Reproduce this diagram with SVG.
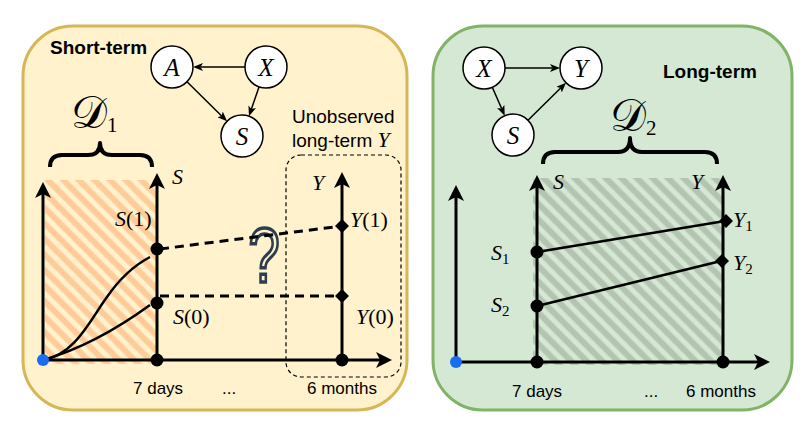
<svg xmlns="http://www.w3.org/2000/svg" width="808" height="439" viewBox="0 0 808 439">
<style>
.sans{font-family:"Liberation Sans",Arial,sans-serif;fill:#000}
.bold{font-weight:bold;font-size:19px}
.lbl{font-size:17px}
.math{font-family:"Liberation Serif","Times New Roman",serif;fill:#000;font-size:22px}
.it{font-style:italic}
.node circle{fill:#fff;stroke:#000;stroke-width:1.5}
.node text{font-family:"Liberation Serif","Times New Roman",serif;font-style:italic;font-size:25px;text-anchor:middle}
.edge{stroke:#000;stroke-width:1.5;fill:none;marker-end:url(#arr)}
.axis{stroke:#000;stroke-width:3;fill:none}
.axarr{marker-end:url(#axarr)}
.dash{stroke:#000;stroke-width:3;fill:none;stroke-dasharray:9 6}
.curve{stroke:#000;stroke-width:2.5;fill:none}
.brace{stroke:#000;stroke-width:4;fill:none;stroke-linejoin:round}
.dot{fill:#000}
.dia{fill:#000}
.cal{font-size:45px}
</style>
<defs>
<marker id="arr" viewBox="0 0 10 8" refX="2.5" refY="4" markerWidth="10" markerHeight="8" markerUnits="userSpaceOnUse" orient="auto">
<path d="M0,0 L10,4 L0,8 L2.5,4 z" fill="#000"/>
</marker>
<marker id="axarr" viewBox="0 0 16 16" refX="4" refY="8" markerWidth="16" markerHeight="16" markerUnits="userSpaceOnUse" orient="auto">
<path d="M0,0 L16,8 L0,16 L4,8 z" fill="#000"/>
</marker>
<pattern id="hatchO" patternUnits="userSpaceOnUse" width="11" height="11" patternTransform="rotate(45)">
<rect x="0" y="2.5" width="11" height="6" fill="#ffcc99"/>
</pattern>
<pattern id="hatchG" patternUnits="userSpaceOnUse" width="11" height="11" patternTransform="rotate(45)">
<rect x="0" y="2.5" width="11" height="6" fill="#b3c4b1"/>
</pattern>
</defs>

<!-- Panels -->
<g id="panel-short">
<rect x="23" y="26" width="384" height="384" rx="50" ry="50" fill="#fff2cc" stroke="#d6b656" stroke-width="3"/>
<text class="sans bold" x="50" y="54">Short-term</text>
</g>
<g id="panel-long">
<rect x="433" y="26" width="359" height="384" rx="50" ry="50" fill="#d5e8d4" stroke="#82b366" stroke-width="3"/>
<text class="sans bold" x="663" y="78">Long-term</text>
</g>

<!-- Hatched data regions -->
<g id="hatch-d1"><rect x="45" y="180" width="112" height="184" fill="url(#hatchO)"/></g>
<g id="hatch-d2"><rect x="533" y="178" width="189" height="187" fill="url(#hatchG)"/></g>

<!-- Unobserved box -->
<g id="unobserved">
<rect x="286" y="155" width="115" height="222" rx="15" ry="15" fill="none" stroke="#000" stroke-width="1.2" stroke-dasharray="4 3"/>
<text class="sans" font-size="19" x="292" y="123">Unobserved</text>
<text class="sans" font-size="19" x="292" y="147">long-term <tspan class="it" font-family="Liberation Serif, serif" font-size="22">Y</tspan></text>
</g>

<!-- Question mark -->
<g id="question">
<text transform="translate(264,282) scale(0.72,1)" x="0" y="0" text-anchor="middle" font-family="Liberation Sans, Arial, sans-serif" font-size="78" fill="#fff2cc" stroke="#2c3e50" stroke-width="3.5">?</text>
</g>

<!-- Connectors -->
<g id="connectors">
<!-- left DAG -->
<line class="edge" x1="245" y1="67" x2="200.5" y2="67"/>
<line class="edge" x1="187" y1="81.7" x2="221.7" y2="116"/>
<line class="edge" x1="259.1" y1="86.8" x2="251.4" y2="109.1"/>
<!-- right DAG -->
<line class="edge" x1="505" y1="68" x2="552.5" y2="68"/>
<line class="edge" x1="492.3" y1="87.3" x2="501.7" y2="108.8"/>
<line class="edge" x1="528" y1="120.3" x2="560.7" y2="88"/>
<!-- left axes -->
<line class="axis axarr" x1="43" y1="360" x2="43" y2="194"/>
<line class="axis axarr" x1="43" y1="360" x2="380" y2="360"/>
<line class="axis axarr" x1="157" y1="360" x2="157" y2="185"/>
<line class="axis axarr" x1="342" y1="360" x2="342" y2="184"/>
<!-- left curves -->
<path class="curve" d="M43,360 C75,355 90,320 107,297 C120,278 135,265 150,257"/>
<path class="curve" d="M43,360 Q95,345 150,305"/>
<!-- left dashed -->
<line class="dash" x1="160" y1="249" x2="342" y2="226"/>
<line class="dash" x1="160" y1="296" x2="342" y2="296"/>
<!-- right axes -->
<line class="axis axarr" x1="456" y1="362" x2="456" y2="197"/>
<line class="axis axarr" x1="456" y1="362" x2="758" y2="362"/>
<line class="axis axarr" x1="537" y1="362" x2="537" y2="187"/>
<line class="axis axarr" x1="723" y1="362" x2="723" y2="187"/>
<!-- right lines -->
<line class="curve" x1="537" y1="252" x2="725" y2="221"/>
<line class="curve" x1="537" y1="306" x2="721" y2="261"/>
</g>

<!-- Left DAG nodes -->
<g id="node-A" class="node"><circle cx="172" cy="67" r="21"/><text x="172" y="76">A</text></g>
<g id="node-X1" class="node"><circle cx="266" cy="67" r="21"/><text x="266" y="76">X</text></g>
<g id="node-S1" class="node"><circle cx="242" cy="136" r="21"/><text x="242" y="145">S</text></g>
<!-- Right DAG nodes -->
<g id="node-X2" class="node"><circle cx="484" cy="68" r="21"/><text x="484" y="77">X</text></g>
<g id="node-Y2" class="node"><circle cx="581" cy="68" r="21"/><text x="581" y="77">Y</text></g>
<g id="node-S2" class="node"><circle cx="513" cy="135" r="21"/><text x="513" y="144">S</text></g>

<!-- Braces -->
<g id="brace-d1">
<path class="brace" d="M50,167 Q50,155 62,155 L88,155 Q100,155 100,143 Q100,155 112,155 L140,155 Q152,155 152,167"/>
<text class="math" x="71" y="128"><tspan class="cal">𝒟</tspan><tspan font-size="21" dy="4">1</tspan></text>
</g>
<g id="brace-d2">
<path class="brace" d="M543,164 Q543,152 555,152 L618,152 Q630,152 630,138 Q630,152 642,152 L705,152 Q717,152 717,164"/>
<text class="math" x="610" y="131"><tspan class="cal">𝒟</tspan><tspan font-size="21" dy="4">2</tspan></text>
</g>

<!-- Left chart points and labels -->
<g id="left-points">
<circle cx="43" cy="360" r="6" fill="#1a6cf0"/>
<circle class="dot" cx="157" cy="360" r="6.5"/>
<circle class="dot" cx="157" cy="249" r="6.5"/>
<circle class="dot" cx="157" cy="303" r="6.5"/>
<circle class="dot" cx="342" cy="360" r="6.5"/>
<path class="dia" d="M342,219 L349,226 L342,233 L335,226 z"/>
<path class="dia" d="M342,289 L349,296 L342,303 L335,296 z"/>
</g>
<g id="left-labels">
<text class="math it" x="172" y="184">S</text>
<text class="math" x="115" y="226"><tspan class="it">S</tspan>(1)</text>
<text class="math" x="173" y="324"><tspan class="it">S</tspan>(0)</text>
<text class="math it" x="312" y="190">Y</text>
<text class="math" x="350" y="227"><tspan class="it">Y</tspan>(1)</text>
<text class="math" x="356" y="324"><tspan class="it">Y</tspan>(0)</text>
<text class="sans lbl" x="133" y="394">7 days</text>
<text class="sans lbl" x="222" y="394">...</text>
<text class="sans lbl" x="307" y="394">6 months</text>
</g>

<!-- Right chart points and labels -->
<g id="right-points">
<circle cx="456" cy="362" r="6" fill="#1a6cf0"/>
<circle class="dot" cx="537" cy="362" r="6.5"/>
<circle class="dot" cx="723" cy="362" r="6.5"/>
<circle class="dot" cx="537" cy="252" r="6.5"/>
<circle class="dot" cx="537" cy="306" r="6.5"/>
<path class="dia" d="M726,214 L733,221 L726,228 L719,221 z"/>
<path class="dia" d="M722,254 L729,261 L722,268 L715,261 z"/>
</g>
<g id="right-labels">
<text class="math it" x="553" y="189">S</text>
<text class="math it" x="691" y="189">Y</text>
<text class="math" x="733" y="227"><tspan class="it">Y</tspan><tspan font-size="15" dy="4">1</tspan></text>
<text class="math" x="733" y="270"><tspan class="it">Y</tspan><tspan font-size="15" dy="4">2</tspan></text>
<text class="math" x="491" y="260"><tspan class="it">S</tspan><tspan font-size="15" dy="4">1</tspan></text>
<text class="math" x="491" y="312"><tspan class="it">S</tspan><tspan font-size="15" dy="4">2</tspan></text>
<text class="sans lbl" x="512" y="397">7 days</text>
<text class="sans lbl" x="644" y="397">...</text>
<text class="sans lbl" x="686" y="397">6 months</text>
</g>
</svg>
